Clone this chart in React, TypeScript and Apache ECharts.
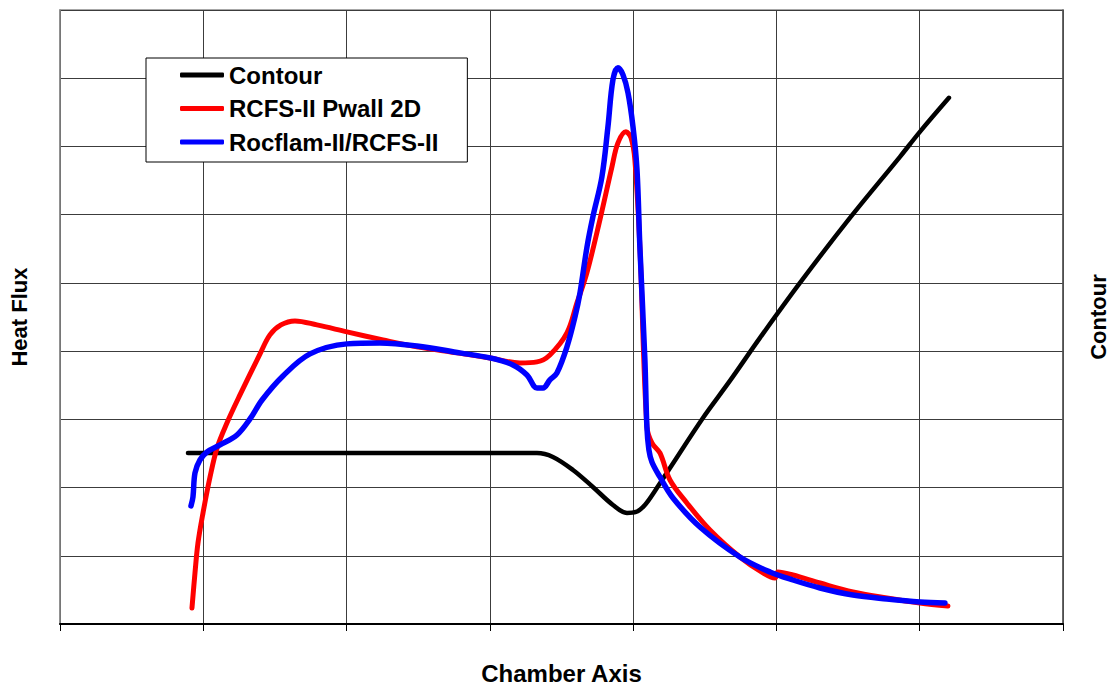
import React, { useEffect, useRef } from "react";
import * as echarts from "echarts";

// Chart values in grid units (x: chamber axis, y: heat flux / contour)
const contourData: [number, number][] = [
  [0.893, 2.507], [3.329, 2.507], [3.44, 2.449], [3.58, 2.258], [3.719, 2.009],
  [3.859, 1.745], [3.957, 1.628], [4.02, 1.642], [4.082, 1.745], [4.152, 1.95],
  [4.257, 2.287], [4.487, 3.021], [4.675, 3.563], [4.885, 4.194], [5.164, 5.0],
  [5.513, 5.953], [5.862, 6.848], [6.001, 7.214], [6.204, 7.713],
];

const rcfsData: [number, number][] = [
  [0.921, 0.235], [0.942, 0.748], [0.963, 1.188], [0.998, 1.628], [1.047, 2.155],
  [1.096, 2.581], [1.165, 2.947], [1.256, 3.358], [1.396, 3.959], [1.465, 4.238],
  [1.542, 4.384], [1.64, 4.443], [1.793, 4.384], [2.003, 4.282], [2.254, 4.164],
  [2.491, 4.062], [2.77, 3.974], [3.001, 3.9], [3.21, 3.827], [3.329, 3.842],
  [3.419, 3.944], [3.538, 4.267], [3.608, 4.707], [3.677, 5.147], [3.768, 5.924],
  [3.852, 6.701], [3.894, 7.053], [3.95, 7.214], [3.985, 7.126], [4.012, 6.804],
  [4.047, 5.528], [4.096, 2.889], [4.131, 2.654], [4.187, 2.507], [4.257, 2.111],
  [4.375, 1.774], [4.536, 1.378], [4.745, 0.982], [4.906, 0.748], [4.99, 0.674],
  [5.01, 0.762], [5.115, 0.718], [5.304, 0.601], [5.534, 0.469], [5.771, 0.381],
  [6.001, 0.308], [6.197, 0.264],
];

const rocflamData: [number, number][] = [
  [0.914, 1.73], [0.928, 1.862], [0.942, 2.214], [0.977, 2.405], [1.026, 2.522],
  [1.117, 2.625], [1.235, 2.771], [1.326, 3.006], [1.41, 3.284], [1.556, 3.636],
  [1.745, 3.959], [2.003, 4.106], [2.233, 4.12], [2.491, 4.076], [2.791, 3.974],
  [3.001, 3.9], [3.161, 3.798], [3.259, 3.651], [3.329, 3.46], [3.371, 3.46],
  [3.419, 3.578], [3.468, 3.68], [3.538, 4.062], [3.594, 4.501], [3.629, 4.853],
  [3.678, 5.528], [3.719, 5.968], [3.782, 6.554], [3.824, 7.287], [3.859, 7.977],
  [3.894, 8.152], [3.929, 8.05], [3.964, 7.786], [3.999, 7.287], [4.027, 6.657],
  [4.047, 5.528], [4.082, 3.871], [4.096, 2.889], [4.11, 2.551], [4.131, 2.375],
  [4.187, 2.155], [4.278, 1.848], [4.466, 1.422], [4.745, 0.982], [4.955, 0.762],
  [5.115, 0.645], [5.304, 0.528], [5.534, 0.425], [5.771, 0.367], [6.001, 0.323],
  [6.176, 0.308],
];

const seriesNames = ["Contour", "RCFS-II Pwall 2D", "Rocflam-II/RCFS-II"];
const seriesColors = ["#000000", "#ff0000", "#0000ff"];
const seriesWidths = [4.5, 5, 5.5];

const FONT = "'Liberation Sans', Arial, sans-serif";

export default function App() {
  const ref = useRef<HTMLDivElement>(null);

  useEffect(() => {
    document.documentElement.style.overflow = "hidden";
    document.body.style.margin = "0";
    document.body.style.overflow = "hidden";
    if (!ref.current) return;
    const chart = echarts.init(ref.current, undefined, { renderer: "svg" });
    const nameStyle = { fontFamily: FONT, fontWeight: "bold" as const, fontSize: 22, color: "#000" };
    const makeSeries = (i: number, data: [number, number][], yAxisIndex: number) => ({
      name: seriesNames[i],
      type: "line",
      yAxisIndex,
      data,
      symbol: "none",
      smooth: 0.35,
      lineStyle: { color: seriesColors[i], width: seriesWidths[i], cap: "round", join: "round" },
      itemStyle: { color: seriesColors[i] },
    });
    chart.setOption({
      animation: false,
      backgroundColor: "#fff",
      grid: {
        left: 60,
        top: 10,
        right: 48,
        bottom: 62,
        containLabel: false,
        outerBoundsMode: "none",
        show: true,
        borderColor: "#8a8a8a",
        borderWidth: 1.5,
      },
      legend: {
        orient: "vertical",
        left: 146,
        top: 58,
        padding: [5, 29, 8, 34],
        itemWidth: 44,
        itemHeight: 5,
        itemGap: 9.5,
        backgroundColor: "#fff",
        borderColor: "#000",
        borderWidth: 1,
        borderRadius: 0,
        textStyle: { fontFamily: FONT, fontWeight: "bold", fontSize: 24, color: "#000" },
        data: seriesNames.map((n) => ({ name: n, icon: "roundRect" })),
      },
      xAxis: {
        type: "value",
        min: 0,
        max: 7,
        interval: 1,
        name: "Chamber Axis",
        nameLocation: "middle",
        nameGap: 37,
        nameTextStyle: { ...nameStyle, fontSize: 24 },
        axisLabel: { show: false },
        axisLine: { show: true, lineStyle: { color: "#000", width: 2 } },
        axisTick: { show: true, length: 7, inside: false, lineStyle: { color: "#000", width: 1 } },
        splitLine: { show: true, lineStyle: { color: "#3c3c3c", width: 1 } },
      },
      yAxis: [
        {
          type: "value",
          min: 0,
          max: 9,
          interval: 1,
          position: "left",
          name: "Heat Flux",
          nameLocation: "middle",
          nameGap: 30,
          nameRotate: 90,
          nameTextStyle: nameStyle,
          axisLabel: { show: false },
          axisLine: { show: true, lineStyle: { color: "#8a8a8a", width: 1.5 } },
          axisTick: { show: false },
          splitLine: { show: true, lineStyle: { color: "#3c3c3c", width: 1 } },
        },
        {
          type: "value",
          min: 0,
          max: 9,
          interval: 1,
          position: "right",
          name: "Contour",
          nameLocation: "middle",
          nameGap: 24,
          nameRotate: 90,
          nameTextStyle: nameStyle,
          axisLabel: { show: false },
          axisLine: { show: true, lineStyle: { color: "#555", width: 1.5 } },
          axisTick: { show: false },
          splitLine: { show: false },
        },
      ],
      series: [
        makeSeries(0, contourData, 1),
        makeSeries(1, rcfsData, 0),
        makeSeries(2, rocflamData, 0),
      ],
    });
    return () => chart.dispose();
  }, []);

  return <div ref={ref} style={{ width: 1111, height: 686, position: "fixed", left: 0, top: 0 }} />;
}
